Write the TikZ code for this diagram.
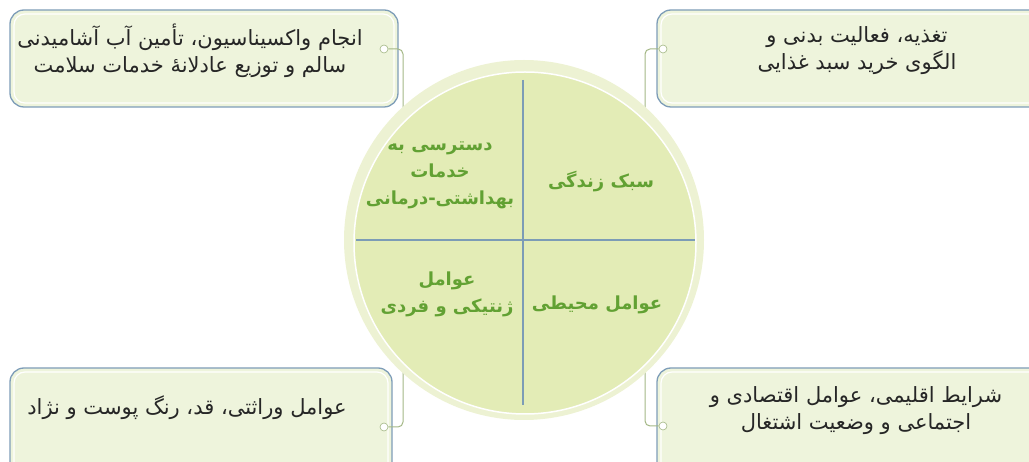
\documentclass[tikz,border=0pt]{standalone}
\usepackage{fontspec}
\newfontfamily\persianfont[Script=Arabic]{DejaVu Sans}
\TeXXeTstate=1
\usetikzlibrary{positioning}
\definecolor{boxfill}{HTML}{EEF4DC}
\definecolor{boxline}{HTML}{7E9DB8}
\definecolor{ringfill}{HTML}{EDF2D3}
\definecolor{discfill}{HTML}{E3ECB6}
\definecolor{crossline}{HTML}{7C9CB6}
\definecolor{linkline}{HTML}{A3B785}
\definecolor{labelgreen}{HTML}{62A133}
\newcommand{\rl}[1]{\beginR #1\endR}

\begin{document}
\begin{tikzpicture}[x=1pt, y=-1pt,
    infobox/.style={draw=boxline, fill=boxfill, line width=1.3pt, rounded corners=14pt},
    boxtext/.style={font=\persianfont\fontsize{21}{27}\selectfont, text=black!85, align=center},
    sectortext/.style={font=\persianfont\bfseries\fontsize{18}{27}\selectfont, text=labelgreen, align=center},
    dot/.style={circle, draw=linkline, fill=white, inner sep=0pt, minimum size=8pt, line width=0.6pt},
    link/.style={draw=linkline, line width=1pt, rounded corners=5pt}]
    \useasboundingbox (0,0) rectangle (1029,462);
    \clip (0,0) rectangle (1029,462);
    \def\inset{4}

    \draw[infobox] (10,10) rectangle (398,107);
    \draw[infobox] (657,10) rectangle (1050,107);
    \draw[infobox] (10,368) rectangle (392,480);
    \draw[infobox] (657,368) rectangle (1050,480);
    \draw[white, line width=1.2pt, rounded corners=11pt] (10+\inset,10+\inset) rectangle (398-\inset,107-\inset);
    \draw[white, line width=1.2pt, rounded corners=11pt] (657+\inset,10+\inset) rectangle (1050,107-\inset);
    \draw[white, line width=1.2pt, rounded corners=11pt] (10+\inset,368+\inset) rectangle (392-\inset,480);
    \draw[white, line width=1.2pt, rounded corners=11pt] (657+\inset,368+\inset) rectangle (1050,480);

    \node[boxtext] (tltext) at (190,51) {\rl{انجام واکسیناسیون، تأمین آب آشامیدنی}\\\rl{سالم و توزیع عادلانهٔ خدمات سلامت}};
    \node[boxtext] (trtext) at (857,51) {\rl{تغذیه، فعالیت بدنی و}\\\rl{الگوی خرید سبد غذایی}};
    \node[boxtext] (bltext) at (187,408) {\rl{عوامل وراثتی، قد، رنگ پوست و نژاد}};
    \node[boxtext] (brtext) at (856,411) {\rl{شرایط اقلیمی، عوامل اقتصادی و}\\\rl{اجتماعی و وضعیت اشتغال}};

    \node[dot] (tldot) at (384,49) {};
    \node[dot] (trdot) at (663,49) {};
    \node[dot] (bldot) at (384,427) {};
    \node[dot] (brdot) at (663,426) {};
    \coordinate (tlend) at (403,130);
    \coordinate (trend) at (645,130);
    \coordinate (blend) at (403,350);
    \coordinate (brend) at (645,350);
    \draw[link] (tldot) -| (tlend);
    \draw[link] (trdot) -| (trend);
    \draw[link] (bldot) -| (blend);
    \draw[link] (brdot) -| (brend);

    \fill[ringfill] (524,240) circle (180);
    \draw[white, line width=1.5pt] (525,243) circle (171);
    \fill[discfill] (525,243) circle (170);

    \coordinate (vtop) at (523,80);
    \coordinate (vbot) at (523,405);
    \coordinate (hleft) at (356,240);
    \coordinate (hright) at (695,240);
    \draw[crossline, line width=2pt] (vtop) -- (vbot);
    \draw[crossline, line width=2pt] (hleft) -- (hright);

    \node[sectortext] (access) at (440,175) {\rl{دسترسی به}\\\rl{خدمات}\\\rl{بهداشتی-درمانی}};
    \node[sectortext] (life) at (601,182) {\rl{سبک زندگی}};
    \node[sectortext] (genetic) at (447,294) {\rl{عوامل}\\\rl{ژنتیکی و فردی}};
    \node[sectortext] (env) at (597,305) {\rl{عوامل محیطی}};
\end{tikzpicture}
\end{document}
